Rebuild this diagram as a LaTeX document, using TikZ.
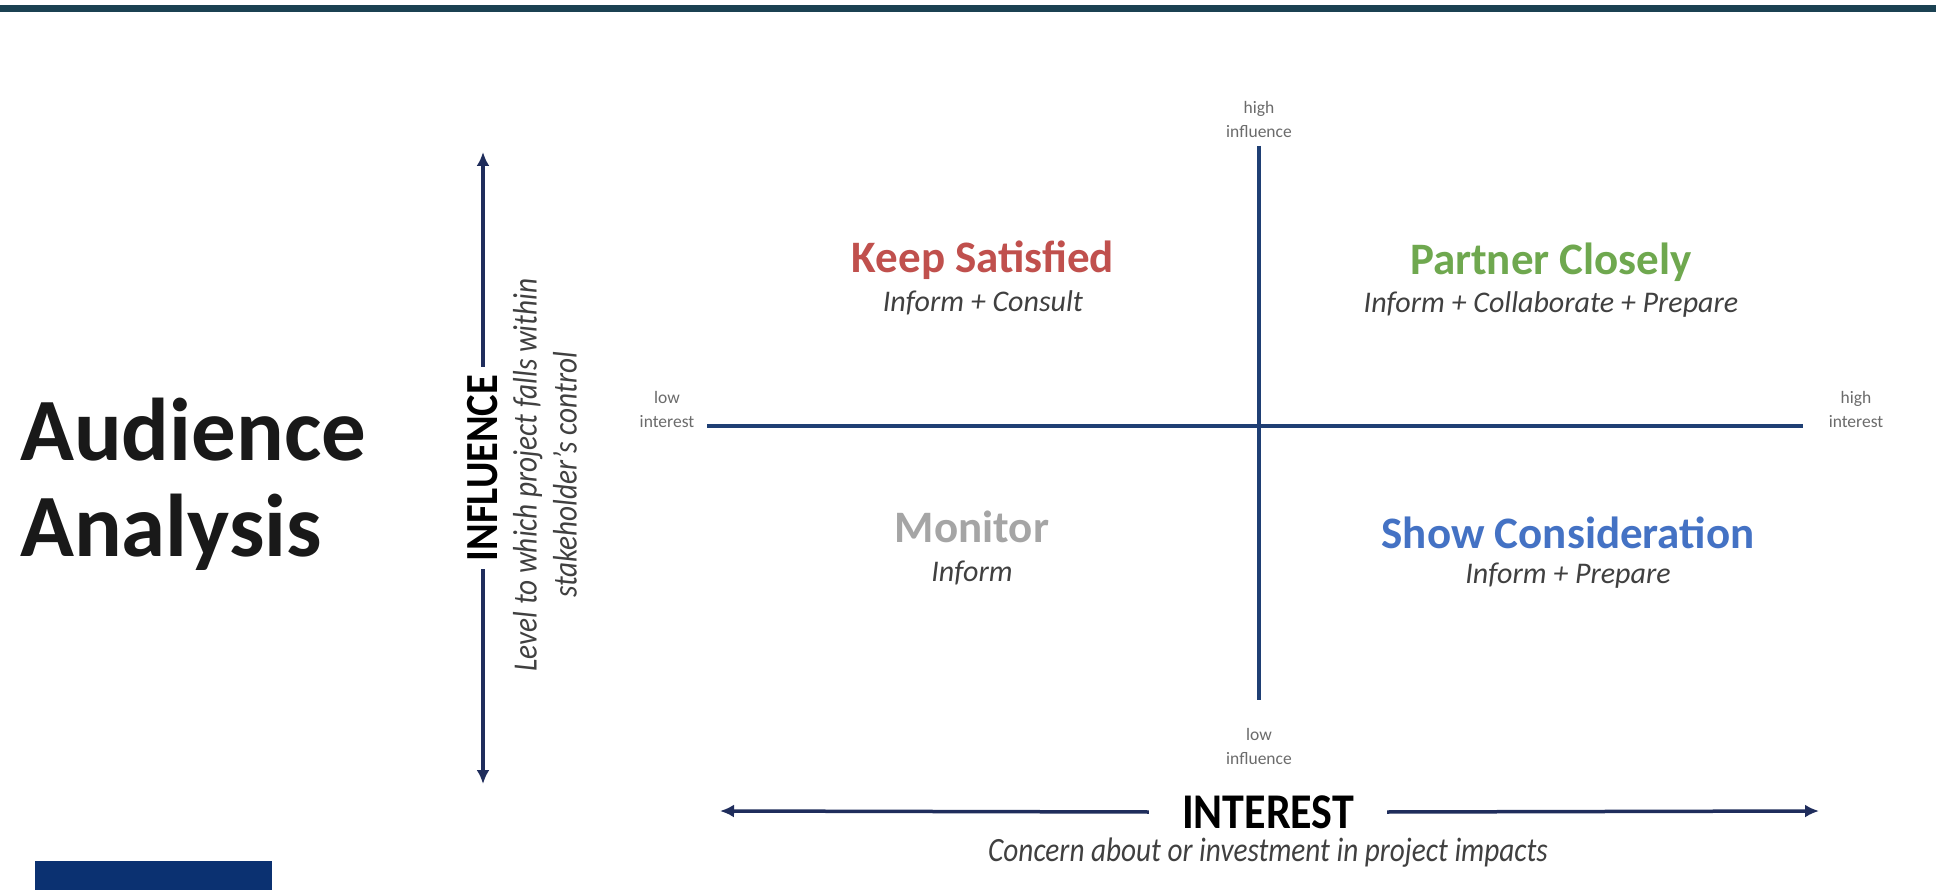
\documentclass[tikz,border=0pt]{standalone}
\usepackage{fontspec}
\setmainfont{Carlito}
\newfontfamily\condfont[FakeStretch=0.88]{Carlito}
\newfontfamily\subfont[FakeStretch=0.86]{Carlito}
\usetikzlibrary{arrows.meta}
\definecolor{topbar}{HTML}{1B4152}
\definecolor{axisblue}{HTML}{1F3F74}
\definecolor{arrnavy}{HTML}{1F2D5C}
\definecolor{keepred}{HTML}{C0504D}
\definecolor{partgreen}{HTML}{6FA84F}
\definecolor{monigray}{HTML}{A5A5A5}
\definecolor{showblue}{HTML}{4472C4}
\definecolor{subgray}{HTML}{404040}
\definecolor{smallgray}{HTML}{6B6B6B}
\definecolor{boxblue}{HTML}{0B3171}
\newcommand\fsz[2]{\fontsize{#1}{#2}\selectfont}
\begin{document}
\begin{tikzpicture}[x=1pt,y=-1pt,
  qtitle/.style={font=\fsz{45}{54}\bfseries, inner sep=0pt},
  qsub/.style={font=\fsz{30}{34}\itshape, text=subgray, inner sep=0pt},
  small/.style={font=\fsz{17.5}{24}, text=smallgray, align=center, inner sep=0pt},
  axisline/.style={draw=axisblue, line width=4pt},
  bigarrow/.style={draw=arrnavy, line width=3.5pt, -{Latex[length=14pt,width=13pt]}},
  axtitleV/.style={font=\condfont\fsz{46}{50}\bfseries, inner ysep=0pt},
  axtitleH/.style={font=\condfont\fsz{50}{54}\bfseries, inner ysep=0pt},
  axsub/.style={font=\subfont\fsz{34}{40}\itshape, text=subgray, align=center, inner sep=0pt}]
\useasboundingbox (0,0) rectangle (1936,890);
\fill[white] (0,0) rectangle (1936,890);
% top bar
\fill[topbar] (0,5) rectangle (1936,12);
% bottom box
\fill[boxblue] (35,861) rectangle (272,890);
% title
\node[anchor=west, align=left, inner sep=0pt, font=\fsz{89}{96}\bfseries, text=black!90] (title) at (20,484) {Audience\\Analysis};
% quadrant axes
\coordinate (vTop) at (1259,146);
\coordinate (vBot) at (1259,700);
\coordinate (hL) at (707,426);
\coordinate (hR) at (1803,426);
\draw[axisline] (vTop) -- (vBot);
\draw[axisline] (hL) -- (hR);
% axis end labels
\node[small] (hiInf) at (1259,119) {high\\influence};
\node[small] (loInf) at (1259,746) {low\\influence};
\node[small] (loInt) at (667,409) {low\\interest};
\node[small] (hiInt) at (1856,409) {high\\interest};
% quadrants
\node[qtitle, text=keepred] (keep) at (983,260) {Keep Satisfied};
\node[qsub] (keepS) at (983,303) {Inform + Consult};
\node[qtitle, text=partgreen] (part) at (1551,262) {Partner Closely};
\node[qsub] (partS) at (1551,305) {Inform + Collaborate + Prepare};
\node[qtitle, text=monigray] (moni) at (972,527) {Monitor};
\node[qsub] (moniS) at (972,573) {Inform};
\node[qtitle, text=showblue] (show) at (1568,533) {Show Consideration};
\node[qsub] (showS) at (1568,576) {Inform + Prepare};
% influence axis
\coordinate (infTop) at (483,152);
\coordinate (infBot) at (483,784);
\node[axtitleV, rotate=90, inner xsep=8pt] (infl) at (483,468) {INFLUENCE};
\draw[bigarrow] (infl.east) -- (infTop);
\draw[bigarrow] (infl.west) -- (infBot);
\node[axsub, rotate=90] (inflS) at (545,475) {Level to which project falls within\\stakeholder’s control};
% interest axis
\coordinate (intL) at (720,811);
\coordinate (intR) at (1819,811);
\node[axtitleH, inner xsep=33pt] (intr) at (1268,812) {INTEREST};
\draw[bigarrow] (intr.west) -- (intL);
\draw[bigarrow] (intr.east) -- (intR);
\node[axsub] (intrS) at (1268,853) {Concern about or investment in project impacts};
\end{tikzpicture}
\end{document}
